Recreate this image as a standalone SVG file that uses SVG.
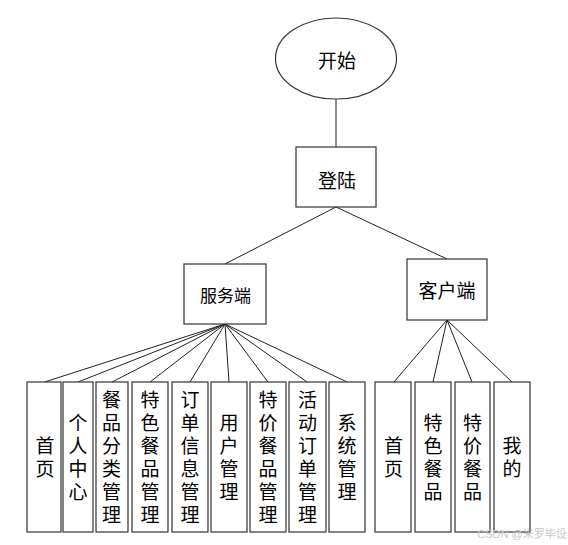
<svg xmlns="http://www.w3.org/2000/svg" width="568" height="545" viewBox="0 0 568 545">
<style>
.box{fill:#fff;stroke:#333;stroke-width:1.2}
.ln{stroke:#222;stroke-width:1;fill:none}
.t{font-family:"Noto Sans CJK SC","Liberation Sans",sans-serif;font-size:19px;fill:#000;text-anchor:middle;dominant-baseline:central}
.s{font-size:17px}
.v{font-family:"Noto Sans CJK SC","Liberation Sans",sans-serif;font-size:19px;fill:#000;text-anchor:middle;writing-mode:vertical-rl;letter-spacing:4px}
.wm{font-family:"Liberation Sans","Noto Sans CJK SC",sans-serif;font-size:11px;fill:#c8c8c8;text-anchor:middle;dominant-baseline:central}
</style>
<rect width="568" height="545" fill="#fff"/>
<g id="connectors">
<line class="ln" x1="336" y1="99" x2="336" y2="147"/>
<line class="ln" x1="336" y1="207" x2="225" y2="264"/>
<line class="ln" x1="336" y1="207" x2="447" y2="259"/>
<line class="ln" x1="225" y1="324" x2="44.5" y2="382"/>
<line class="ln" x1="225" y1="324" x2="78" y2="382"/>
<line class="ln" x1="225" y1="324" x2="112" y2="382"/>
<line class="ln" x1="225" y1="324" x2="150" y2="382"/>
<line class="ln" x1="225" y1="324" x2="190" y2="382"/>
<line class="ln" x1="225" y1="324" x2="229" y2="382"/>
<line class="ln" x1="225" y1="324" x2="268" y2="382"/>
<line class="ln" x1="225" y1="324" x2="307" y2="382"/>
<line class="ln" x1="225" y1="324" x2="347" y2="382"/>
<line class="ln" x1="447" y1="320" x2="394" y2="382"/>
<line class="ln" x1="447" y1="320" x2="433" y2="382"/>
<line class="ln" x1="447" y1="320" x2="472" y2="382"/>
<line class="ln" x1="447" y1="320" x2="512" y2="382"/>
</g>
<g id="start">
<ellipse class="box" cx="336" cy="58.5" rx="60.5" ry="40.5"/>
<text class="t" x="337" y="59">开始</text>
</g>
<g id="login">
<rect class="box" x="296" y="147" width="80" height="60"/>
<text class="t" x="337" y="179">登陆</text>
</g>
<g id="server">
<rect class="box" x="184" y="264" width="82" height="60"/>
<text class="t s" x="225.5" y="294">服务端</text>
</g>
<g id="client">
<rect class="box" x="407" y="259" width="80" height="61"/>
<text class="t" x="447" y="289">客户端</text>
</g>
<g id="s-home">
<rect class="box" x="27" y="382" width="34" height="150"/>
<text class="v" x="45" y="459">首页</text>
</g>
<g id="s-personal">
<rect class="box" x="63" y="382" width="30" height="150"/>
<text class="v" x="78" y="459">个人中心</text>
</g>
<g id="s-category">
<rect class="box" x="96" y="382" width="32" height="150"/>
<text class="v" x="111.5" y="459">餐品分类管理</text>
</g>
<g id="s-special">
<rect class="box" x="132" y="382" width="36" height="150"/>
<text class="v" x="150" y="459">特色餐品管理</text>
</g>
<g id="s-order">
<rect class="box" x="172" y="382" width="36" height="150"/>
<text class="v" x="190" y="459">订单信息管理</text>
</g>
<g id="s-user">
<rect class="box" x="211" y="382" width="36" height="150"/>
<text class="v" x="229" y="459">用户管理</text>
</g>
<g id="s-discount">
<rect class="box" x="250" y="382" width="36" height="150"/>
<text class="v" x="268" y="459">特价餐品管理</text>
</g>
<g id="s-activity">
<rect class="box" x="289" y="382" width="37" height="150"/>
<text class="v" x="307.5" y="459">活动订单管理</text>
</g>
<g id="s-system">
<rect class="box" x="329" y="382" width="36" height="150"/>
<text class="v" x="347" y="459">系统管理</text>
</g>
<g id="c-home">
<rect class="box" x="375" y="382" width="36" height="150"/>
<text class="v" x="393.5" y="459">首页</text>
</g>
<g id="c-special">
<rect class="box" x="415" y="382" width="36" height="150"/>
<text class="v" x="433" y="459">特色餐品</text>
</g>
<g id="c-discount">
<rect class="box" x="455" y="382" width="35" height="150"/>
<text class="v" x="472.5" y="459">特价餐品</text>
</g>
<g id="c-mine">
<rect class="box" x="494" y="382" width="36" height="150"/>
<text class="v" x="512" y="459">我的</text>
</g>
<text class="wm" x="522" y="534">CSDN @米罗毕设</text>
</svg>
